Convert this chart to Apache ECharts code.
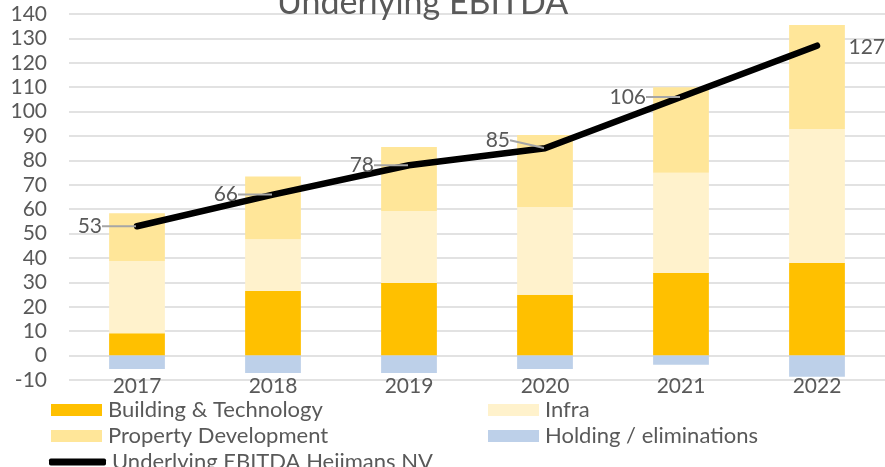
<!DOCTYPE html>
<html>
<head>
<meta charset="utf-8">
<script src="https://cdn.jsdelivr.net/npm/echarts@6/dist/echarts.min.js"></script>
<style>
  html, body { margin: 0; padding: 0; background: #fff; }
  #chart { width: 885px; height: 467px; }
</style>
</head>
<body>
<div id="chart"></div>
<script>
const years = ['2017', '2018', '2019', '2020', '2021', '2022']
const buildingTech = [9.2, 26.5, 29.8, 24.9, 33.9, 38]
const infra = [29.6, 21.2, 29.5, 36, 41, 54.9]
const propertyDev = [19.5, 25.7, 26.2, 29.5, 35.1, 42.6]
const holding = [-5.5, -7.1, -7.1, -5.5, -3.8, -8.7]
const ebitda = [53, 66, 78, 85, 106, 127]

const font = 'Lato, "Open Sans", sans-serif'
const textColor = '#595959'

const chart = echarts.init(document.getElementById('chart'))

function bar (name, data, color) {
    return {
        name,
        type: 'bar',
        stack: 'total',
        barWidth: '41%',
        data,
        itemStyle: { color },
        animation: false
    }
}

function legendAt (name, left, top, extra) {
    return Object.assign({
        data: [name],
        left,
        top,
        itemWidth: 51,
        itemHeight: 12,
        itemGap: 0,
        icon: 'rect',
        textStyle: { fontFamily: font, fontSize: 22, color: textColor, padding: [0, 0, 0, 1] }
    }, extra || {})
}

// last label sits right of the point, without a leader line
const ebitdaData = ebitda.map((v, i) => i === ebitda.length - 1
    ? { value: v, labelLine: { show: false } }
    : v)

const option = {
    title: {
        text: 'Underlying EBITDA',
        left: 272,
        top: -19,
        textStyle: { fontFamily: font, fontSize: 34, fontWeight: 'normal', color: textColor }
    },
    grid: { left: 69, right: -5, top: 14, bottom: 87 },
    legend: [
        legendAt('Building & Technology', 46, 394),
        legendAt('Infra', 483, 394),
        legendAt('Property Development', 46, 420),
        legendAt('Holding / eliminations', 483, 420),
        legendAt('Underlying EBITDA Heijmans NV', 44, 446, {
            icon: 'roundRect',
            itemWidth: 57,
            itemHeight: 7,
            itemStyle: { color: '#000' }
        })
    ],
    xAxis: {
        type: 'category',
        data: years,
        axisLine: { show: false },
        axisTick: { show: false },
        axisLabel: { fontFamily: font, fontSize: 21, color: textColor, margin: -4 }
    },
    yAxis: {
        type: 'value',
        min: -10,
        max: 140,
        interval: 10,
        axisLine: { show: false },
        axisTick: { show: false },
        axisLabel: { fontFamily: font, fontSize: 21, color: textColor, margin: 22 },
        splitLine: { lineStyle: { color: '#d9d9d9', width: 1.5 } }
    },
    series: [
        bar('Building & Technology', buildingTech, '#ffc000'),
        bar('Infra', infra, '#fff2cc'),
        bar('Property Development', propertyDev, '#ffe699'),
        bar('Holding / eliminations', holding, '#bdd0e9'),
        {
            name: 'Underlying EBITDA Heijmans NV',
            type: 'line',
            data: ebitdaData,
            symbol: 'circle',
            symbolSize: 2,
            showSymbol: true,
            animation: false,
            lineStyle: { color: '#000', width: 6.5, cap: 'round', join: 'round' },
            itemStyle: { color: '#000' },
            label: {
                show: true,
                position: 'left',
                distance: 4,
                fontFamily: font,
                fontSize: 21,
                color: textColor
            },
            labelLine: { show: true, lineStyle: { color: '#a6a6a6', width: 2 } },
            labelLayout: function (params) {
                if (params.dataIndex === ebitda.length - 1) {
                    return { dx: 73, dy: 2 }
                }
                if (params.dataIndex === 3) {
                    return { dx: -30, dy: -8 }
                }
                return { dx: -30, dy: 0 }
            },
            z: 5
        }
    ]
}

chart.setOption(option)
</script>
</body>
</html>
